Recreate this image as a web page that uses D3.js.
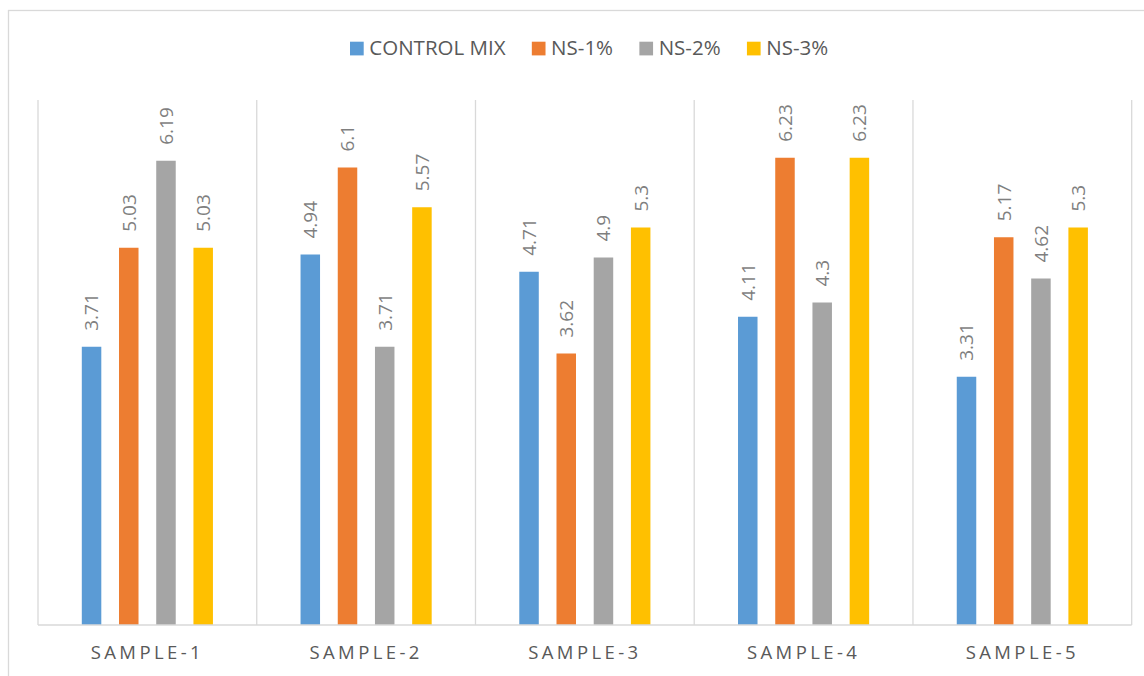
<!DOCTYPE html>
<html><head><meta charset="utf-8">
<script src="https://cdn.jsdelivr.net/npm/d3@7"></script>
<style>
html,body{margin:0;padding:0;background:#fff;}
svg{display:block;font-family:"Open Sans",sans-serif;}
</style></head>
<body>
<svg id="chart" width="1144" height="676"></svg>
<script>
const categories = ["SAMPLE-1","SAMPLE-2","SAMPLE-3","SAMPLE-4","SAMPLE-5"];
const seriesNames = ["CONTROL MIX","NS-1%","NS-2%","NS-3%"];
const controlMix = [3.71, 4.94, 4.71, 4.11, 3.31];
const ns1 = [5.03, 6.1, 3.62, 6.23, 5.17];
const ns2 = [6.19, 3.71, 4.9, 4.3, 4.62];
const ns3 = [5.03, 5.57, 5.3, 6.23, 5.3];
const seriesValues = [controlMix, ns1, ns2, ns3];
const colors = ["#5B9BD5","#ED7D31","#A5A5A5","#FFC000"];
const yDomain = [0, 7];

const svg = d3.select("#chart");
const W = 1144, H = 676;
const plot = {left: 38, right: 1131.7, top: 100, bottom: 625};

// outer chart border
svg.append("rect").attr("x", 8.5).attr("y", 10.5).attr("width", W + 10).attr("height", H + 10)
  .attr("fill", "#fff").attr("stroke", "#d9d9d9").attr("stroke-width", 1.3);

const x0 = d3.scaleBand().domain(categories).range([plot.left, plot.right]).padding(0);
const x1 = d3.scaleBand().domain(seriesNames).range([0, x0.bandwidth()])
  .paddingInner(0.476).paddingOuter(1.177);
const y = d3.scaleLinear().domain(yDomain).range([plot.bottom, plot.top]);

// vertical category separators
const seps = categories.map(c => x0(c)).concat([plot.right]);
svg.append("g").selectAll("line").data(seps).join("line")
  .attr("x1", d => d).attr("x2", d => d)
  .attr("y1", y(yDomain[1])).attr("y2", y(0))
  .attr("stroke", "#d9d9d9").attr("stroke-width", 1.3);

// bars
const g = svg.append("g");
categories.forEach((c, ci) => {
  seriesNames.forEach((s, si) => {
    const v = seriesValues[si][ci];
    const bx = x0(c) + x1(s);
    g.append("rect").attr("x", bx).attr("y", y(v))
      .attr("width", x1.bandwidth()).attr("height", y(0) - y(v))
      .attr("fill", colors[si]);
    g.append("text")
      .attr("transform", `translate(${bx + x1.bandwidth()/2},${y(v) - 16}) rotate(-90)`)
      .attr("dy", "0.36em")
      .attr("text-anchor", "start")
      .attr("font-size", 19)
      .attr("fill", "#7f7f7f")
      .text(v);
  });
});

// baseline
svg.append("line").attr("x1", plot.left).attr("x2", plot.right)
  .attr("y1", y(0)).attr("y2", y(0)).attr("stroke", "#d9d9d9").attr("stroke-width", 1.3);

// category axis labels
const xAxis = d3.axisBottom(x0).tickSize(0).tickPadding(0);
const ax = svg.append("g").attr("transform", `translate(0,${y(0)})`).call(xAxis);
ax.select(".domain").remove();
ax.selectAll("text")
  .attr("y", 34).attr("dy", 0)
  .attr("font-family", "Open Sans, sans-serif")
  .attr("font-size", 18.5).attr("fill", "#595959")
  .attr("letter-spacing", "3.4px");

// legend
const leg = svg.append("g");
let lx = 350;
seriesNames.forEach((s, i) => {
  leg.append("rect").attr("x", lx).attr("y", 41.7).attr("width", 13.7).attr("height", 13.7).attr("fill", colors[i]);
  const t = leg.append("text").attr("x", lx + 19.3).attr("y", 55)
    .attr("font-size", 20.5).attr("fill", "#595959").text(s);
  lx += 19.3 + t.node().getComputedTextLength() + 26.3;
});
</script>
</body></html>
